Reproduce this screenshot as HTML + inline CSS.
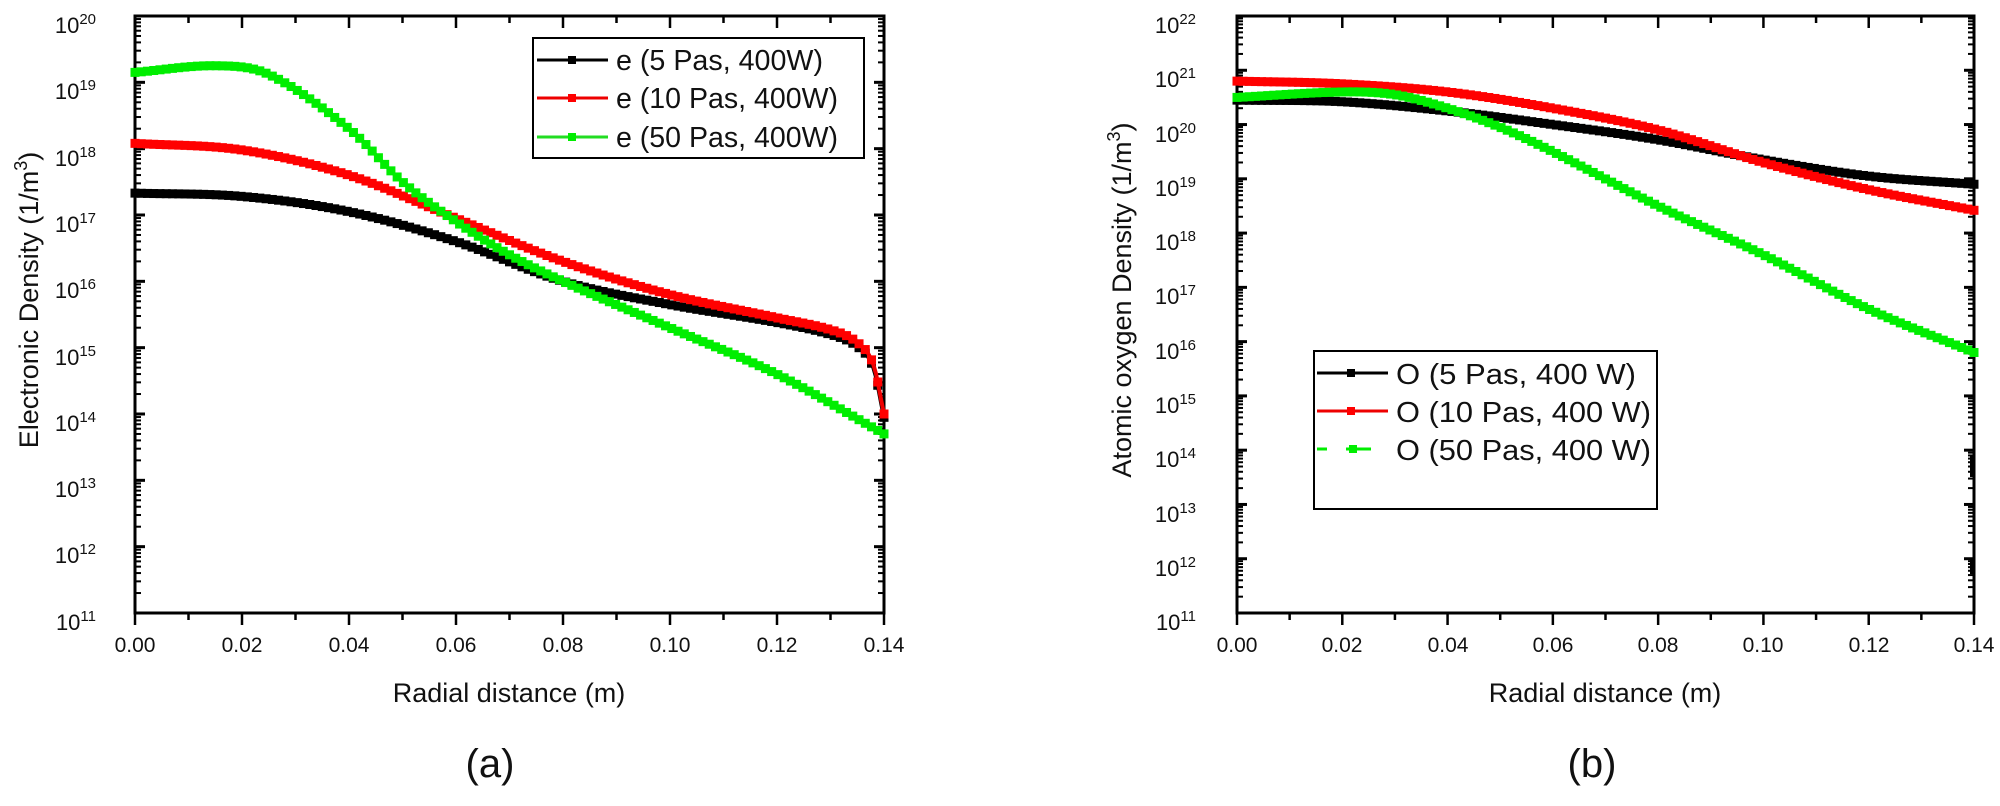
<!DOCTYPE html>
<html><head><meta charset="utf-8">
<style>
html,body{margin:0;padding:0;background:#fff;}
svg{display:block;font-family:"Liberation Sans",Arial,sans-serif;}
</style></head>
<body>
<svg id="s" width="2000" height="806" viewBox="0 0 2000 806" xmlns="http://www.w3.org/2000/svg">
<rect width="2000" height="806" fill="#fff"/>
<g id="axes"></g>
<g id="curves"></g>
<!-- Left legend -->
<rect x="533" y="38" width="331" height="120" fill="#fff" stroke="#000" stroke-width="2"/>
<line x1="537" y1="60" x2="608" y2="60" stroke="#000" stroke-width="3"/><rect x="568" y="56" width="8" height="8" fill="#000"/>
<line x1="537" y1="98" x2="608" y2="98" stroke="#e00" stroke-width="3"/><rect x="568" y="94" width="8" height="8" fill="#f00"/>
<line x1="537" y1="137" x2="608" y2="137" stroke="#2d2" stroke-width="3"/><rect x="568" y="133" width="8" height="8" fill="#0e0"/>
<g font-size="29" fill="#111">
<text x="616" y="70" textLength="207" lengthAdjust="spacingAndGlyphs">e (5 Pas, 400W)</text>
<text x="616" y="108" textLength="222" lengthAdjust="spacingAndGlyphs">e (10 Pas, 400W)</text>
<text x="616" y="147" textLength="222" lengthAdjust="spacingAndGlyphs">e (50 Pas, 400W)</text>
</g>
<!-- Right legend -->
<rect x="1314" y="351" width="343" height="158" fill="#fff" stroke="#000" stroke-width="2"/>
<line x1="1317" y1="373" x2="1388" y2="373" stroke="#000" stroke-width="3"/><rect x="1347" y="369" width="8" height="8" fill="#000"/>
<line x1="1317" y1="411" x2="1388" y2="411" stroke="#e00" stroke-width="3"/><rect x="1347" y="407" width="8" height="8" fill="#f00"/>
<line x1="1317" y1="449" x2="1327" y2="449" stroke="#0e0" stroke-width="3"/><line x1="1346" y1="449" x2="1371" y2="449" stroke="#0e0" stroke-width="3"/><rect x="1349" y="445" width="8" height="8" fill="#0e0"/>
<g font-size="29" fill="#111">
<text x="1396" y="384" textLength="240" lengthAdjust="spacingAndGlyphs">O (5 Pas, 400 W)</text>
<text x="1396" y="422" textLength="255" lengthAdjust="spacingAndGlyphs">O (10 Pas, 400 W)</text>
<text x="1396" y="460" textLength="255" lengthAdjust="spacingAndGlyphs">O (50 Pas, 400 W)</text>
</g>
<!-- odd marks on right axis of (b) -->
<rect x="1970" y="455" width="5" height="22" fill="#000"/>
<rect x="1970" y="560" width="5" height="14" fill="#000"/>
<g font-size="21" fill="#111" text-anchor="middle">
<text x="135" y="652">0.00</text><text x="242" y="652">0.02</text><text x="349" y="652">0.04</text><text x="456" y="652">0.06</text><text x="563" y="652">0.08</text><text x="670" y="652">0.10</text><text x="777" y="652">0.12</text><text x="884" y="652">0.14</text>
<text x="1237" y="652">0.00</text><text x="1342" y="652">0.02</text><text x="1448" y="652">0.04</text><text x="1553" y="652">0.06</text><text x="1658" y="652">0.08</text><text x="1763" y="652">0.10</text><text x="1869" y="652">0.12</text><text x="1974" y="652">0.14</text>
</g>
<g font-size="22" fill="#111" text-anchor="end">
<text x="96" y="33">10<tspan font-size="15" dy="-9">20</tspan></text>
<text x="96" y="99">10<tspan font-size="15" dy="-9">19</tspan></text>
<text x="96" y="166">10<tspan font-size="15" dy="-9">18</tspan></text>
<text x="96" y="232">10<tspan font-size="15" dy="-9">17</tspan></text>
<text x="96" y="298">10<tspan font-size="15" dy="-9">16</tspan></text>
<text x="96" y="365">10<tspan font-size="15" dy="-9">15</tspan></text>
<text x="96" y="431">10<tspan font-size="15" dy="-9">14</tspan></text>
<text x="96" y="497">10<tspan font-size="15" dy="-9">13</tspan></text>
<text x="96" y="563">10<tspan font-size="15" dy="-9">12</tspan></text>
<text x="96" y="630">10<tspan font-size="15" dy="-9">11</tspan></text>
</g>
<g font-size="22" fill="#111" text-anchor="end">
<text x="1196" y="33">10<tspan font-size="15" dy="-9">22</tspan></text>
<text x="1196" y="87">10<tspan font-size="15" dy="-9">21</tspan></text>
<text x="1196" y="142">10<tspan font-size="15" dy="-9">20</tspan></text>
<text x="1196" y="196">10<tspan font-size="15" dy="-9">19</tspan></text>
<text x="1196" y="250">10<tspan font-size="15" dy="-9">18</tspan></text>
<text x="1196" y="304">10<tspan font-size="15" dy="-9">17</tspan></text>
<text x="1196" y="359">10<tspan font-size="15" dy="-9">16</tspan></text>
<text x="1196" y="413">10<tspan font-size="15" dy="-9">15</tspan></text>
<text x="1196" y="467">10<tspan font-size="15" dy="-9">14</tspan></text>
<text x="1196" y="522">10<tspan font-size="15" dy="-9">13</tspan></text>
<text x="1196" y="576">10<tspan font-size="15" dy="-9">12</tspan></text>
<text x="1196" y="630">10<tspan font-size="15" dy="-9">11</tspan></text>
</g>
<g font-size="27" fill="#111" text-anchor="middle">
<text x="509" y="702">Radial distance (m)</text>
<text x="1605" y="702">Radial distance (m)</text>
<text transform="translate(38,300) rotate(-90)">Electronic Density (1/m<tspan font-size="18" dy="-11">3</tspan><tspan dy="11">)</tspan></text>
<text transform="translate(1131,300) rotate(-90)">Atomic oxygen Density (1/m<tspan font-size="18" dy="-11">3</tspan><tspan dy="11">)</tspan></text>
</g>
<g font-size="40" fill="#111" text-anchor="middle">
<text x="490" y="777">(a)</text>
<text x="1592" y="777">(b)</text>
</g>
</svg>
<script>
var NS="http://www.w3.org/2000/svg";
var axes=document.getElementById('axes'),cur=document.getElementById('curves');
function el(t,a,p){var e=document.createElementNS(NS,t);for(var k in a)e.setAttribute(k,a[k]);(p||axes).appendChild(e);return e;}
function frame(x0,x1,y0,y1,emax,emin){
  el('rect',{x:x0,y:y0,width:x1-x0,height:y1-y0,fill:'none',stroke:'#000','stroke-width':3});
  var dec=(y1-y0)/(emax-emin);
  for(var e=emin;e<=emax;e++){
    var y=y1-(e-emin)*dec;
    el('line',{x1:x0,y1:y,x2:x0+10,y2:y,stroke:'#000','stroke-width':3});
    el('line',{x1:x1,y1:y,x2:x1-10,y2:y,stroke:'#000','stroke-width':3});
    if(e<emax)for(var m=2;m<10;m++){var ym=y-Math.log10(m)*dec;
      el('line',{x1:x0,y1:ym,x2:x0+6,y2:ym,stroke:'#000','stroke-width':2});
      el('line',{x1:x1,y1:ym,x2:x1-6,y2:ym,stroke:'#000','stroke-width':2});}
  }
  for(var i=0;i<=14;i++){var x=x0+(x1-x0)*i/14,maj=i%2==0;
    el('line',{x1:x,y1:y1,x2:x,y2:y1+(maj?12:7),stroke:'#000','stroke-width':2.5});
    el('line',{x1:x,y1:y0,x2:x,y2:y0+(maj?12:7),stroke:'#000','stroke-width':2.5});}
}
frame(135,884,16,613,20,11);
frame(1237,1974,16,613,22,11);
function interp(pts,v){
  for(var i=0;i<pts.length-1;i++){if(v<=pts[i+1][0]){
    var p0=pts[Math.max(0,i-1)],p1=pts[i],p2=pts[i+1],p3=pts[Math.min(pts.length-1,i+2)];
    var t=(v-p1[0])/(p2[0]-p1[0]);
    var m1=(p2[1]-p0[1])/(p2[0]-p0[0])*(p2[0]-p1[0]),m2=(p3[1]-p1[1])/(p3[0]-p1[0])*(p2[0]-p1[0]);
    var t2=t*t,t3=t2*t;
    return (2*t3-3*t2+1)*p1[1]+(t3-2*t2+t)*m1+(-2*t3+3*t2)*p2[1]+(t3-t2)*m2;}}
  return pts[pts.length-1][1];
}
function series(pts,x0,x1,y0,y1,emax,emin,col,mk){
  var dec=(y1-y0)/(emax-emin),d='',N=280;
  var X=function(v){return x0+(x1-x0)*v/0.14},Y=function(e){return y1-(e-emin)*dec};
  for(var i=0;i<=N;i++){var v=0.14*i/N;d+=(i?'L':'M')+X(v).toFixed(1)+' '+Y(interp(pts,v)).toFixed(1);}
  el('path',{d:d,fill:'none',stroke:col,'stroke-width':4},cur);
  var M=120;
  for(var i=0;i<=M;i++){var v=0.14*i/M;
    el('rect',{x:X(v)-4.5,y:Y(interp(pts,v))-4.5,width:9,height:9,fill:mk},cur);}
}
var L=[135,884,16,613,20,11];
series([[0,17.33],[0.02,17.28],[0.04,17.05],[0.06,16.6],[0.08,16.0],[0.10,15.65],[0.12,15.38],[0.13,15.2],[0.135,15.02],[0.138,14.7],[0.14,13.95]],L[0],L[1],L[2],L[3],L[4],L[5],'#000','#000');
series([[0,18.08],[0.02,17.98],[0.04,17.6],[0.06,16.95],[0.08,16.3],[0.10,15.8],[0.12,15.45],[0.13,15.27],[0.135,15.08],[0.138,14.75],[0.14,14.0]],L[0],L[1],L[2],L[3],L[4],L[5],'#e00','#f00');
series([[0,19.15],[0.015,19.25],[0.025,19.12],[0.04,18.3],[0.05,17.5],[0.06,16.9],[0.07,16.4],[0.08,16.0],[0.10,15.3],[0.12,14.6],[0.14,13.7]],L[0],L[1],L[2],L[3],L[4],L[5],'#2d2','#0e0');
var R=[1237,1974,16,613,22,11];
series([[0,20.45],[0.02,20.42],[0.04,20.25],[0.06,20.0],[0.08,19.72],[0.10,19.35],[0.12,19.05],[0.14,18.9]],R[0],R[1],R[2],R[3],R[4],R[5],'#000','#000');
series([[0,20.8],[0.02,20.75],[0.04,20.6],[0.06,20.3],[0.08,19.9],[0.10,19.3],[0.12,18.8],[0.14,18.42]],R[0],R[1],R[2],R[3],R[4],R[5],'#e00','#f00');
series([[0,20.5],[0.02,20.6],[0.03,20.55],[0.04,20.3],[0.05,19.95],[0.06,19.5],[0.08,18.5],[0.10,17.6],[0.12,16.6],[0.14,15.8]],R[0],R[1],R[2],R[3],R[4],R[5],'#0e0','#0e0');
</script>
</body></html>
